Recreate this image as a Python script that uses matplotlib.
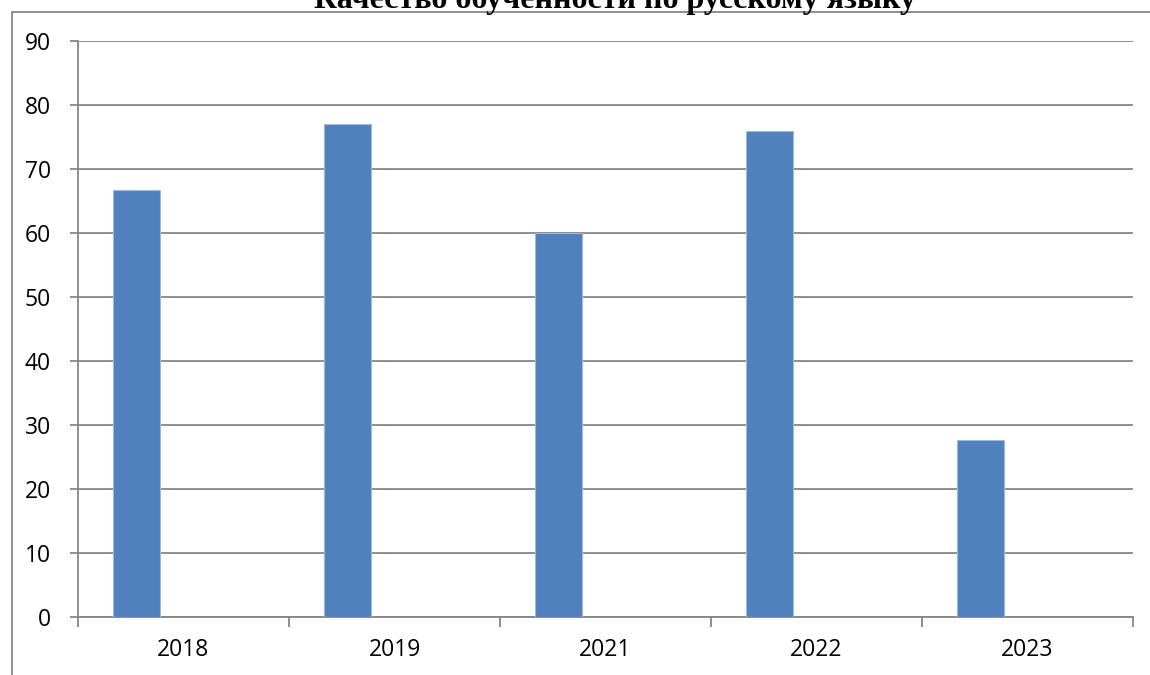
import numpy as np
import matplotlib.pyplot as plt
from matplotlib.patches import Rectangle

years = ['2018', '2019', '2021', '2022', '2023']
quality = [66.7, 77, 60, 76, 27.6]

BAR_COLOR = '#4f81bd'
GRID_COLOR = '#868686'

fig = plt.figure(figsize=(11.5, 6.75), dpi=100)
W, H = 1150, 675
# plot area in pixels: x 78..1133, y 41..617
ax = fig.add_axes([78 / W, 1 - 617 / H, (1133 - 78) / W, (617 - 41) / H])

x = np.arange(len(years))
bw = 47 / 211
ax.bar(x - bw, quality, width=bw, color=BAR_COLOR, edgecolor='#9db9dc',
       linewidth=0.8, zorder=3)

ax.set_xlim(-0.5, len(years) - 0.5)
ax.set_ylim(0, 90)
ax.set_yticks(range(0, 91, 10))
ax.yaxis.grid(True, color=GRID_COLOR, linewidth=1.3, zorder=0)

ax.set_xticks(np.arange(-0.5, len(years), 1))
ax.set_xticklabels([])
ax.set_xticks(x, minor=True)
ax.set_xticklabels(years, minor=True)
ax.tick_params(axis='x', which='minor', length=0, pad=15, labelsize=16.5)
ax.tick_params(axis='x', which='major', length=7, color=GRID_COLOR, width=1.3)
ax.tick_params(axis='y', length=6, color=GRID_COLOR, width=1.3, pad=13.5, labelsize=16.5)

for side in ['top', 'right']:
    ax.spines[side].set_visible(False)
for side in ['left', 'bottom']:
    ax.spines[side].set_color(GRID_COLOR)
    ax.spines[side].set_linewidth(1.3)

for lbl in ax.get_xticklabels(minor=True) + ax.get_yticklabels():
    lbl.set_family(['Open Sans', 'DejaVu Sans'])

# chart frame
fig.add_artist(Rectangle((12 / W, -0.1), 1.2, 1 - 12 / H + 0.1,
                         transform=fig.transFigure, fill=False,
                         edgecolor=GRID_COLOR, linewidth=1.3))

fig.text(0.535, 1 - 8 / H, 'Качество обученности по русскому языку',
         ha='center', va='baseline', fontsize=23, fontweight='bold',
         family=['Liberation Serif', 'DejaVu Serif'])

fig.savefig('out.png', dpi=100)
